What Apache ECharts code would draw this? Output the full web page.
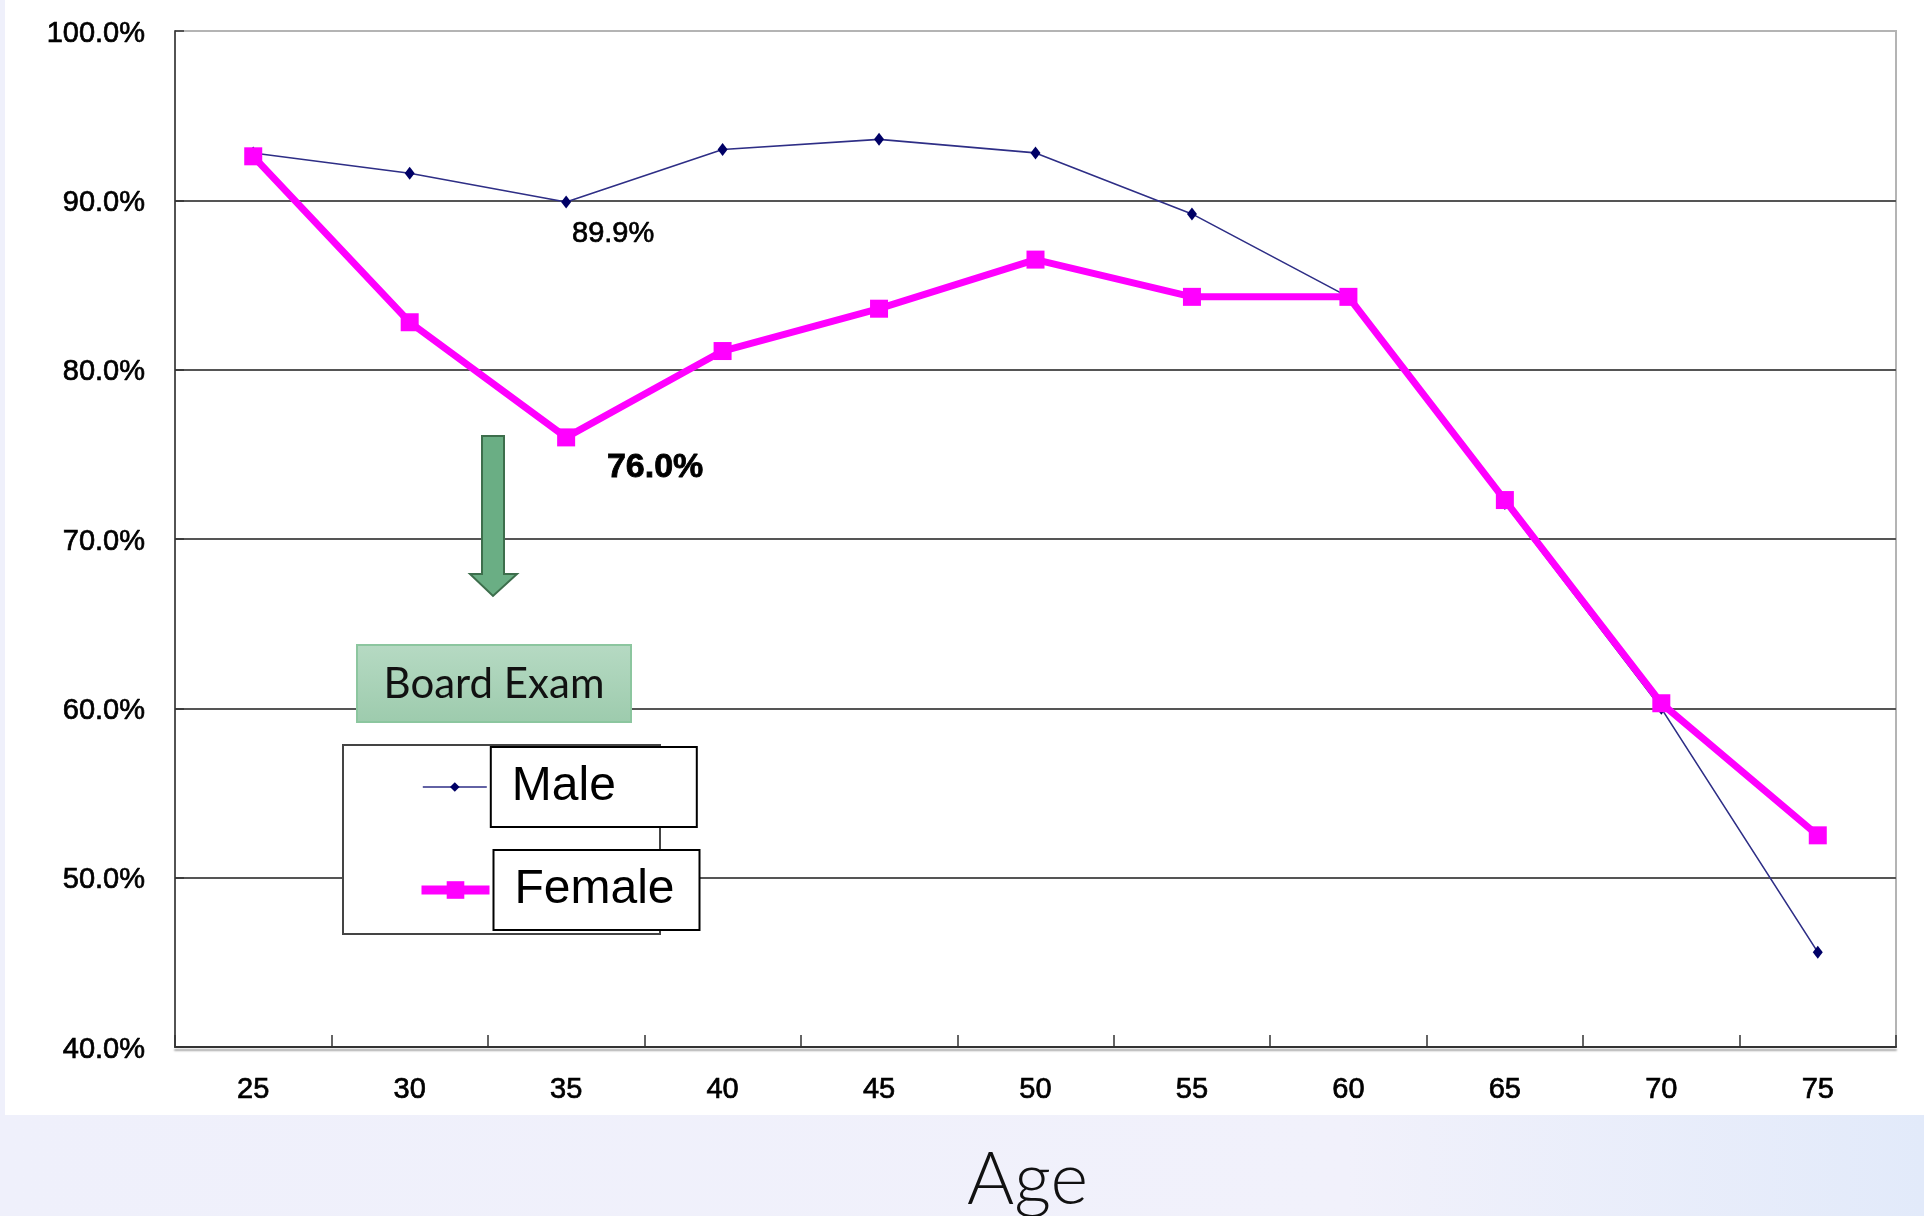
<!DOCTYPE html>
<html>
<head>
<meta charset="utf-8">
<script src="https://cdn.jsdelivr.net/npm/echarts@6/dist/echarts.min.js"></script>
<style>
  html, body { margin: 0; padding: 0; }
  body { width: 1924px; height: 1216px; background: linear-gradient(90deg, #eff0fb 0%, #f1f1fb 70%, #e2eafa 100%); position: relative; overflow: hidden; }
  #paper { position: absolute; left: 5px; top: 0; width: 1919px; height: 1115px; background: #ffffff; }
  #chart { position: absolute; left: 0; top: 0; width: 1924px; height: 1216px; }
</style>
</head>
<body>
<div id="paper"></div>
<div id="chart"></div>
<script>
const categories = ['25', '30', '35', '40', '45', '50', '55', '60', '65', '70', '75'];
const maleRate = [92.8, 91.6, 89.9, 93.0, 93.6, 92.8, 89.2, 84.3, 72.1, 60.0, 45.6];
const femaleRate = [92.6, 82.8, 76.0, 81.1, 83.6, 86.5, 84.3, 84.3, 72.3, 60.3, 52.5];
const yMin = 40, yMax = 100, yStep = 10;
const maleLabelIndex = 2;
const femaleLabelIndex = 2;

const chart = echarts.init(document.getElementById('chart'), null, { renderer: 'canvas' });
const pct = v => v.toFixed(1) + '%';
const FONT = 'Liberation Sans, Arial, sans-serif';
const heavy = { textBorderColor: '#000', textBorderWidth: 0.7 };

const maleData = maleRate.map((v, i) => i === maleLabelIndex ? {
  value: v,
  label: Object.assign({ show: true, position: 'inside', offset: [47, 32], formatter: p => pct(p.value),
    fontFamily: FONT, fontSize: 29, color: '#000' }, heavy)
} : v);
const femaleData = femaleRate.map((v, i) => i === femaleLabelIndex ? {
  value: v,
  label: { show: true, position: 'inside', offset: [89, 30], formatter: p => pct(p.value),
    fontFamily: FONT, fontSize: 34, fontWeight: 'bold', color: '#000', textBorderColor: '#000', textBorderWidth: 0.8 }
} : v);

const legendText = {
  fontFamily: FONT, fontSize: 48, color: '#000',
  backgroundColor: '#fff', borderColor: '#000', borderWidth: 2,
  padding: [8, 18, 8, 20], width: 166, height: 62, lineHeight: 62
};

chart.setOption({
  animation: false,
  backgroundColor: 'transparent',
  grid: { left: 175, right: 28, top: 31, bottom: 169, outerBoundsMode: 'none', containLabel: false,
    show: true, borderColor: '#b4b4b4', borderWidth: 2, backgroundColor: 'transparent' },
  xAxis: {
    type: 'category', data: categories, boundaryGap: true,
    name: 'Age', nameLocation: 'middle', nameGap: 98,
    nameTextStyle: { fontFamily: 'Lato, Noto Sans, sans-serif', fontWeight: 300, fontSize: 72, color: '#111', padding: [0, 16, 0, 0] },
    axisLine: { lineStyle: { color: '#333', width: 2, shadowColor: 'rgba(0,0,0,0.35)', shadowOffsetY: 3, shadowBlur: 2 } },
    axisTick: { show: true, inside: true, length: 12, alignWithLabel: false, lineStyle: { color: '#333', width: 1.5 } },
    axisLabel: Object.assign({ fontFamily: FONT, fontSize: 29, color: '#000', margin: 28 }, heavy),
    splitLine: { show: false }
  },
  yAxis: {
    type: 'value', min: yMin, max: yMax, interval: yStep,
    axisLine: { show: true, lineStyle: { color: '#333', width: 1.5 } },
    axisTick: { show: true, inside: true, length: 9, lineStyle: { color: '#333', width: 1.5 } },
    axisLabel: Object.assign({ formatter: v => pct(v), fontFamily: FONT, fontSize: 29, color: '#000', margin: 30,
      verticalAlign: 'top', lineHeight: 29, padding: [-12, 0, 0, 0] }, heavy),
    splitLine: { show: true, showMinLine: false, showMaxLine: false, lineStyle: { color: '#555', width: 2 } }
  },
  legend: [
    { data: ['Male'], orient: 'vertical', left: 422, top: 746, padding: 0, itemWidth: 64, itemHeight: 12,
      lineStyle: { width: 1.6 }, textStyle: legendText, selectedMode: false, z: 10 },
    { data: ['Female'], orient: 'vertical', left: 417, top: 849, padding: 0, itemWidth: 68, itemHeight: 22,
      lineStyle: { width: 9 }, textStyle: legendText, selectedMode: false, z: 10 }
  ],
  series: [
    {
      name: 'Male', type: 'line', data: maleData,
      symbol: 'diamond', symbolSize: [10, 13],
      lineStyle: { color: '#2e2e86', width: 1.6 },
      itemStyle: { color: '#000066' },
      emphasis: { disabled: true }, z: 2
    },
    {
      name: 'Female', type: 'line', data: femaleData,
      symbol: 'rect', symbolSize: 18,
      lineStyle: { color: '#ff00ff', width: 7 },
      itemStyle: { color: '#ff00ff' },
      emphasis: { disabled: true }, z: 3
    }
  ],
  graphic: [
    { type: 'polygon', z: 5,
      shape: { points: [[482, 436], [504, 436], [504, 574], [517, 574], [493, 596], [470, 574], [482, 574]] },
      style: { fill: '#6aae84', stroke: '#3d6e4c', lineWidth: 2 } },
    { type: 'rect', z: 5, shape: { x: 357, y: 645, width: 274, height: 77 },
      style: { fill: new echarts.graphic.LinearGradient(0, 0, 0, 1, [{ offset: 0, color: '#b6dac3' }, { offset: 1, color: '#9dcbad' }]), stroke: '#8cc69f', lineWidth: 2 } },
    { type: 'text', z: 6, x: 494, y: 684,
      style: { text: 'Board Exam', fontFamily: 'Lato, Noto Sans, sans-serif', fontSize: 42, fill: '#111', align: 'center', verticalAlign: 'middle' } },
    { type: 'rect', z: 5, shape: { x: 343, y: 745, width: 317, height: 189 },
      style: { fill: '#ffffff', stroke: '#444', lineWidth: 2 } }
  ]
});
</script>
</body>
</html>
